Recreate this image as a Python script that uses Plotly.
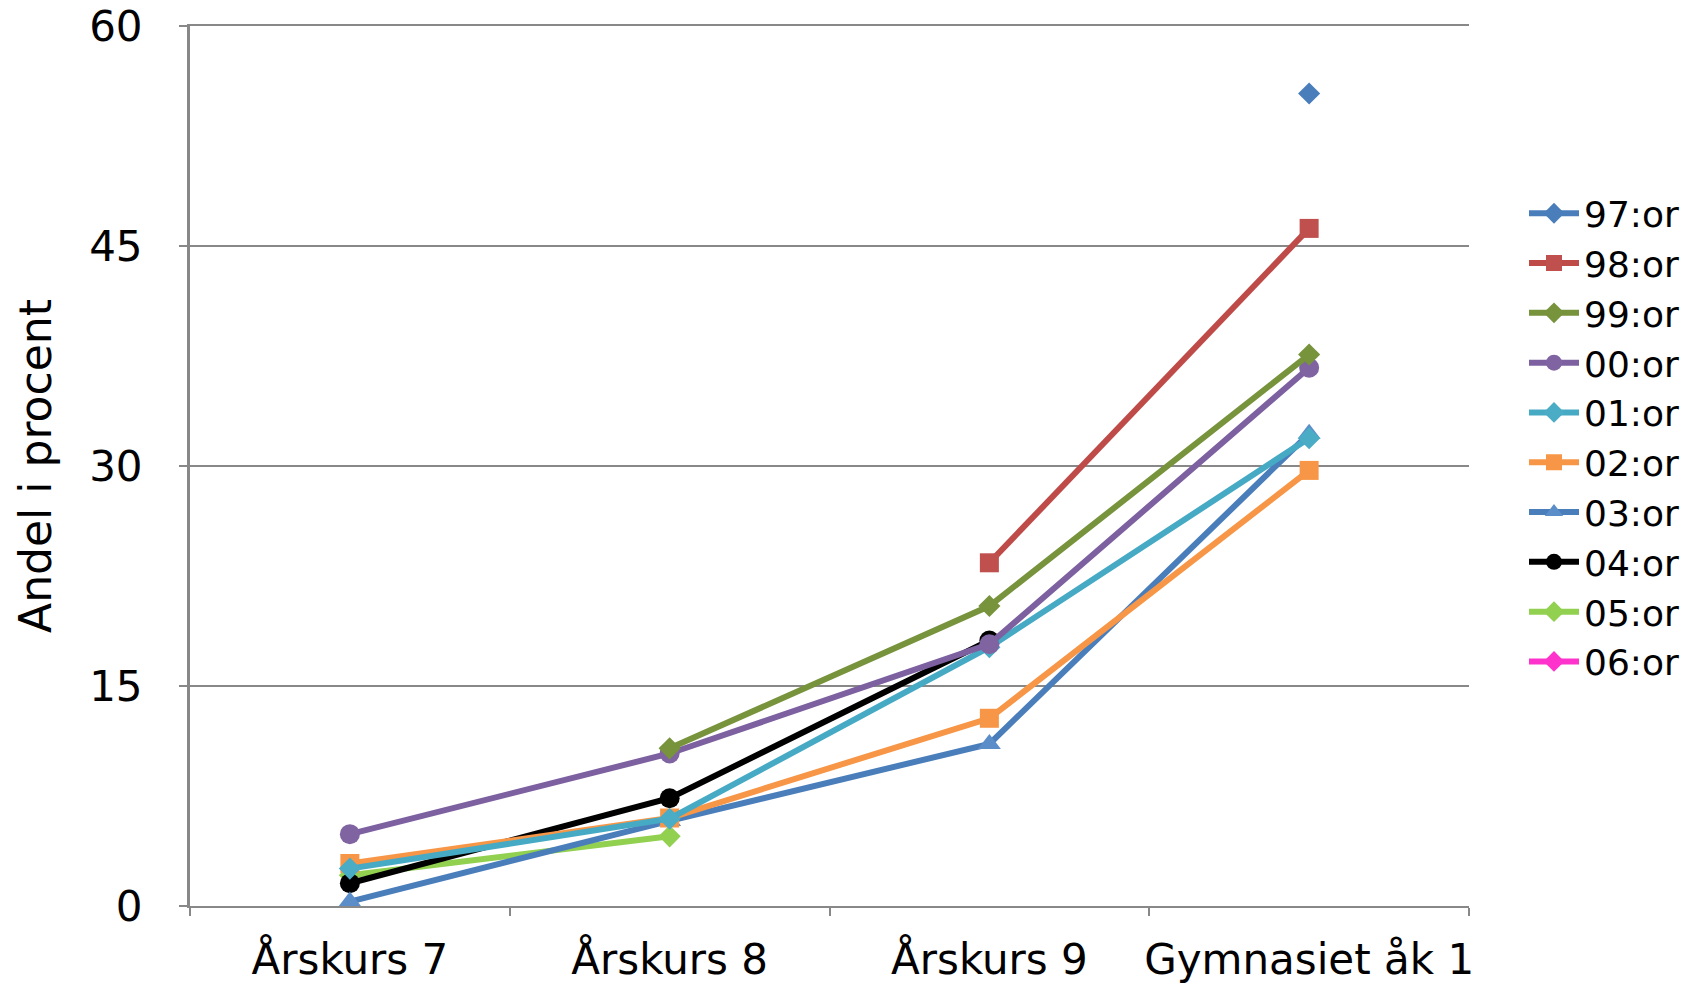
import plotly.graph_objects as go

# categories (x axis)
categories = ["Årskurs 7", "Årskurs 8", "Årskurs 9", "Gymnasiet åk 1"]

# series values (None = no value)
series_names = ["97:or", "98:or", "99:or", "00:or", "01:or",
                "02:or", "03:or", "04:or", "05:or", "06:or"]
y_97 = [None, None, None, 55.4]
y_98 = [None, None, 23.4, 46.2]
y_99 = [None, 10.75, 20.45, 37.6]
y_00 = [4.9, 10.4, 17.85, 36.7]
y_01 = [2.55, 5.95, 17.65, 31.9]
y_02 = [2.9, 6.0, 12.8, 29.7]
y_03 = [0.3, 5.8, 11.05, 32.2]
y_04 = [1.55, 7.35, 18.1, None]
y_05 = [2.1, 4.75, None, None]
y_06 = [None, None, None, None]
y_values = [y_97, y_98, y_99, y_00, y_01, y_02, y_03, y_04, y_05, y_06]

y_ticks = [0, 15, 30, 45, 60]

# styles
line_colors = ["#4A7EBB", "#BE4B48", "#77933C", "#7D60A0", "#46AAC5",
               "#F79646", "#4A7EBB", "#000000", "#92D050", "#FF33CC"]
marker_colors = ["#4A7EBB", "#C0504D", "#77933C", "#8064A2", "#4BACC6",
                 "#F79646", "#5B8DC9", "#000000", "#92D050", "#FF33CC"]
symbols = ["diamond", "square", "diamond", "circle", "diamond",
           "square", "triangle-up", "circle", "diamond", "diamond"]
sizes = [17, 19, 17, 20, 17, 19, 20, 20, 17, 17]

FONT = "DejaVu Sans"

fig = go.Figure()

# add in reverse so the first series is drawn on top (like the original)
for i in reversed(range(len(series_names))):
    fig.add_trace(go.Scatter(
        x=categories,
        y=y_values[i],
        name=series_names[i],
        mode="lines+markers",
        connectgaps=False,
        line=dict(color=line_colors[i], width=6),
        marker=dict(symbol=symbols[i], size=sizes[i], color=marker_colors[i],
                    line=dict(width=0)),
    ))

# page body has an 8px margin, so offsets are compensated here
fig.update_layout(
    width=1698,
    height=989,
    paper_bgcolor="white",
    plot_bgcolor="white",
    margin=dict(l=182, r=237, t=18, b=91, autoexpand=False),
    font=dict(family=FONT, size=38, color="black"),
    legend=dict(
        traceorder="reversed",
        x=1.043,
        xanchor="left",
        y=0.532,
        yanchor="middle",
        font=dict(family=FONT, size=36, color="black"),
        bgcolor="rgba(0,0,0,0)",
        itemsizing="trace",
        itemwidth=50,
    ),
    showlegend=True,
)

fig.update_xaxes(
    type="category",
    categoryorder="array",
    categoryarray=categories,
    range=[-0.5, 3.5],
    tickson="boundaries",
    ticks="outside",
    ticklen=8,
    tickwidth=2,
    tickcolor="#888888",
    tickangle=0,
    showline=True,
    mirror=True,          # top line at 60
    linecolor="#888888",
    linewidth=2,
    showgrid=False,
    automargin=False,
    tickfont=dict(family=FONT, size=42, color="black"),
    ticklabelstandoff=16,
    ticklabeloverflow="allow",
)

fig.update_yaxes(
    range=[0, 60],
    tickvals=y_ticks,
    ticks="outside",
    ticklen=8,
    tickwidth=2,
    tickcolor="#888888",
    showline=True,
    linecolor="#888888",
    linewidth=3,
    showgrid=True,
    gridcolor="#888888",
    gridwidth=2,
    zeroline=False,
    automargin=False,
    tickfont=dict(family=FONT, size=42, color="black"),
    ticklabelstandoff=28,
    ticklabeloverflow="allow",
    title=dict(text="Andel i procent", font=dict(family=FONT, size=44, color="black"),
               standoff=24),
)

fig.write_html("out.html")
